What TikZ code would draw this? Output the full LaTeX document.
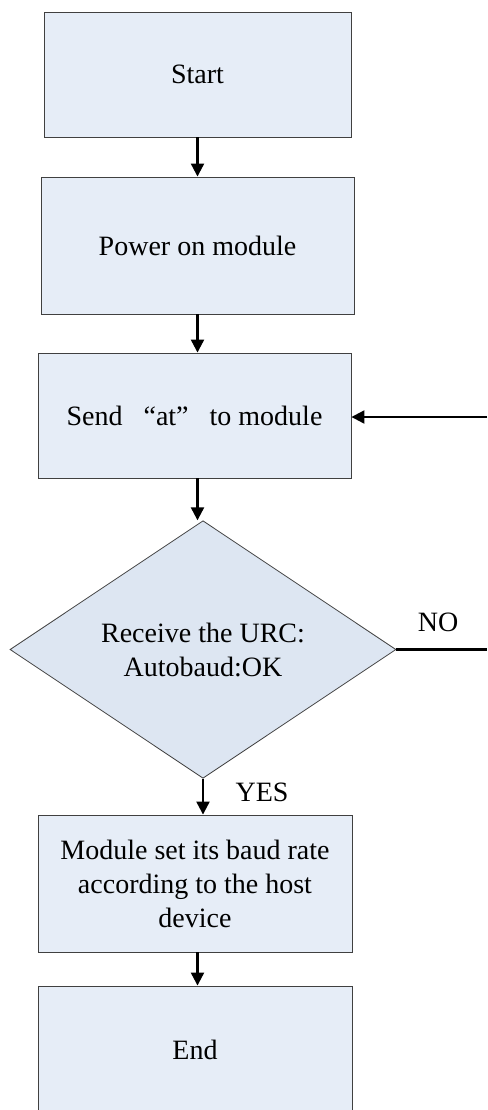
\documentclass[tikz,border=0pt]{standalone}
\usepackage{fontspec}
\setmainfont{Liberation Serif}
\usetikzlibrary{shapes.geometric,arrows.meta}
\definecolor{boxfill}{HTML}{E6EDF7}
\definecolor{decfill}{HTML}{DDE6F2}
\definecolor{edgecol}{HTML}{404040}
\begin{document}
\begin{tikzpicture}[x=1pt,y=-1pt,
  txt/.style={font=\fontsize{28}{34}\selectfont},
  box/.style={txt, draw=edgecol, line width=0.9pt, fill=boxfill, inner sep=0pt, align=center},
  decision/.style={txt, diamond, draw=edgecol, line width=0.8pt, fill=decfill, inner sep=0pt, align=center},
  arr/.style={line width=2.2pt, -{Triangle[length=13pt,width=13pt]}},
  lbl/.style={txt, inner sep=0pt}]
\useasboundingbox (0,0) rectangle (487,1110);
\fill[white] (0,0) rectangle (487,1110);
\node[box, minimum width=307pt, minimum height=125pt] (start) at (197.5,74.5) {Start};
\node[box, minimum width=313pt, minimum height=137pt] (power) at (197.5,245.5) {Power on module};
\node[box, minimum width=313pt, minimum height=125pt] (send) at (194.5,415.5) {Send\hspace{21pt}“at”\hspace{21pt}to module};
\node[decision, minimum width=386pt, minimum height=255pt] (dec) at (203,649.5) {Receive the URC:\\Autobaud:OK};
\node[box, minimum width=314pt, minimum height=137pt] (setbaud) at (195,883.5) {Module set its baud rate\\according to the host\\device};
\node[box, minimum width=314pt, minimum height=128pt] (endbox) at (195,1050) {End};
\coordinate (noend) at (487,649.5);
\coordinate (backstart) at (487,417);
\node[lbl] (nolbl) at (438,622) {NO};
\node[lbl] (yeslbl) at (262,792) {YES};
\draw[arr] (start.south) -- (power.north);
\draw[arr] (power.south) -- (power.south |- send.north);
\draw[arr] (send.south -| power.south) -- (power.south |- dec.north);
\draw[arr] (dec.south) -- (dec.south |- setbaud.north);
\draw[arr] (setbaud.south -| power.south) -- (power.south |- endbox.north);
\draw[line width=2.2pt] (dec.east) -- (noend);
\draw[arr] (backstart) -- (backstart -| send.east);
\end{tikzpicture}
\end{document}
